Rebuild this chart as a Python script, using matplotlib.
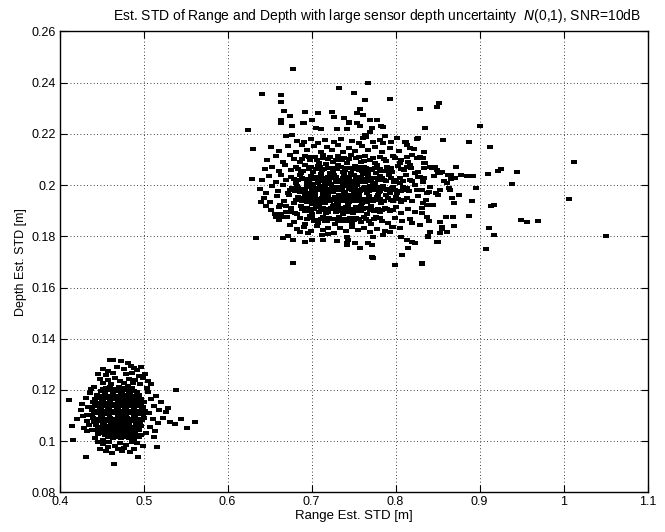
import matplotlib
matplotlib.use("Agg")
import matplotlib.pyplot as plt
from matplotlib.path import Path

plt.rcParams['font.family'] = ['Liberation Sans', 'DejaVu Sans']

# ---- data ----
upper_outliers = [
    (0.678,0.2455),(0.7325,0.238),(0.767,0.2398),(0.641,0.2357),(0.663,0.2352),(0.664,0.2323),
    (0.750,0.236),(0.764,0.2332),(0.793,0.2338),(0.829,0.2298),(0.852,0.2322),(0.8495,0.2306),
    (0.667,0.2288),(0.692,0.2287),(0.707,0.2282),(0.724,0.2286),(0.727,0.2267),(0.7575,0.2296),
    (0.7535,0.2282),(0.7615,0.2273),(0.769,0.2254),(0.674,0.2271),(0.664,0.2254),(0.664,0.2244),
    (0.691,0.2244),(0.739,0.2261),(0.745,0.2246),(0.778,0.2253),(0.6765,0.2231),(0.6245,0.2215),
    (0.705,0.2223),(0.711,0.2218),(0.7305,0.2219),(0.7425,0.222),(0.772,0.2222),(0.7845,0.2228),
    (0.8345,0.2222),(0.901,0.223),(0.6305,0.214),(0.6765,0.2197),(0.669,0.2193),(0.765,0.2197),
    (0.765,0.2187),(0.770,0.2206),(0.7875,0.2192),(0.812,0.217),(0.826,0.218),(0.7735,0.217),
    (0.629,0.2024),(0.856,0.2175),(0.887,0.217),(0.912,0.2148),(1.012,0.209),(0.834,0.213),
    (0.8325,0.2105),(0.834,0.2085),(0.834,0.2068),(0.841,0.207),(0.847,0.207),(0.851,0.2046),
    (0.855,0.205),(0.8725,0.2071),(0.8655,0.2038),(0.8775,0.2038),(0.8845,0.2037),(0.8925,0.2037),
    (0.91,0.2043),(0.922,0.2056),(0.9255,0.2063),(0.9445,0.205),(0.939,0.2004),(0.8955,0.1989),
    (0.891,0.1939),(1.006,0.1947),(0.914,0.192),(0.917,0.1923),(0.8875,0.188),(0.949,0.1864),
    (0.956,0.1857),(0.969,0.186),(0.9115,0.1834),(0.917,0.1806),(1.05,0.1802),(0.9075,0.1752),
    (0.8685,0.1874),(0.8595,0.1875),(0.8695,0.1839),(0.855,0.1836),(0.855,0.1827),(0.8505,0.1779),
    (0.8315,0.1693),(0.875,0.1961),(0.87,0.1929),(0.8525,0.1857),(0.84,0.186),(0.841,0.1816),
    (0.839,0.1801),(0.8635,0.199),(0.8646,0.1981),(0.8667,0.1951),(0.8484,0.1968),(0.8507,0.1961),
    (0.866,0.2037),(0.8655,0.2025),(0.8706,0.2027),(0.858,0.2016),(0.861,0.2009),(0.8325,0.2019),
    (0.834,0.2028),(0.846,0.2035),(0.833,0.1929),(0.837,0.1922),(0.845,0.1922),(0.831,0.189),
    (0.837,0.1877),(0.6397,0.1935),(0.6456,0.1918),(0.6333,0.1795),(0.6774,0.1697),(0.656,0.1887),
    (0.657,0.1877),(0.664,0.1887),(0.665,0.1877),(0.674,0.1844),(0.676,0.1896),(0.680,0.189),
    (0.662,0.1922),(0.670,0.192),(0.666,0.1792),(0.672,0.1801),(0.678,0.1786),(0.686,0.1816),
    (0.696,0.1812),(0.700,0.1786),(0.692,0.1779),(0.712,0.1805),(0.720,0.1809),(0.714,0.1786),
    (0.730,0.1783),(0.7417,0.1773),(0.7424,0.1798),(0.7436,0.1786),(0.7515,0.1773),(0.7417,0.1766),
    (0.7674,0.1773),(0.7714,0.1766),(0.7733,0.1798),(0.7852,0.1805),(0.7932,0.1818),(0.7575,0.1753),
    (0.7714,0.172),(0.7733,0.1714),(0.8071,0.1727),(0.7992,0.1688),(0.831,0.1695),(0.815,0.1753),
    (0.823,0.1773),(0.819,0.1779),(0.8388,0.1798),(0.8488,0.1779),(0.8527,0.1812),(0.8607,0.1818),
    (0.807,0.1798),(0.813,0.1786),(0.797,0.1838),(0.805,0.1831),(0.819,0.1851),(0.829,0.1844),
    (0.690,0.2241),(0.700,0.2254),(0.745,0.2241),(0.754,0.2241),(0.7575,0.2231),(0.783,0.2231),
    (0.835,0.2222),(0.827,0.2183),(0.7635,0.2196),(0.7615,0.2183),(0.785,0.2163),(0.811,0.217),
    (0.813,0.2157),(0.817,0.2144),(0.813,0.2111),(0.819,0.2118),(0.829,0.2111),(0.835,0.2085),
    (0.843,0.2066),(0.849,0.2059),(0.8527,0.2046),(0.8626,0.204),(0.805,0.2085),(0.817,0.2079),
    (0.823,0.2046),(0.827,0.2033),(0.817,0.202),(0.833,0.2013),(0.841,0.1994),(0.8527,0.1981),
    (0.825,0.1981),(0.837,0.1968),(0.811,0.1981),(0.805,0.2007),(0.797,0.1994),(0.793,0.1968),
]

upper_core = [
    (0.683,0.2172),(0.691,0.2168),(0.699,0.2179),(0.708,0.2166),(0.716,0.2175),(0.727,0.2169),
    (0.735,0.2181),(0.748,0.2172),(0.756,0.2166),(0.781,0.2177),(0.795,0.2168),(0.802,0.2184),
    (0.652,0.2148),(0.661,0.2135),(0.672,0.2152),(0.681,0.2131),(0.688,0.2158),(0.694,0.2139),
    (0.703,0.2151),(0.711,0.2129),(0.718,0.2147),(0.724,0.2136),(0.731,0.2158),(0.737,0.2128),
    (0.744,0.2145),(0.752,0.2133),(0.76,0.2152),(0.767,0.2138),(0.776,0.2149),(0.784,0.2131),
    (0.793,0.2143),(0.804,0.2135),(0.822,0.2141),
    (0.647,0.2098),(0.658,0.2112),(0.666,0.2091),(0.674,0.2118),(0.679,0.2101),(0.686,0.2089),
    (0.692,0.2115),(0.698,0.2097),(0.704,0.2108),(0.709,0.2088),(0.714,0.2119),(0.72,0.2102),
    (0.726,0.2091),(0.731,0.2113),(0.736,0.2099),(0.742,0.2086),(0.747,0.2117),(0.753,0.2104),
    (0.759,0.2092),(0.764,0.2112),(0.77,0.2098),(0.776,0.2087),(0.782,0.2109),(0.789,0.2094),
    (0.797,0.2114),(0.806,0.2099),(0.815,0.2091),(0.826,0.2104),
    (0.644,0.2061),(0.653,0.2072),(0.661,0.2054),(0.668,0.2078),(0.675,0.2058),(0.681,0.2069),
    (0.687,0.2049),(0.692,0.2077),(0.697,0.2061),(0.702,0.2052),(0.707,0.2073),(0.712,0.2058),
    (0.717,0.2081),(0.722,0.2047),(0.727,0.2066),(0.732,0.2079),(0.737,0.2053),(0.742,0.2068),
    (0.747,0.2049),(0.752,0.2076),(0.757,0.2059),(0.762,0.2071),(0.767,0.2051),(0.772,0.2064),
    (0.778,0.2078),(0.784,0.2055),(0.79,0.2069),(0.796,0.2052),(0.803,0.2074),(0.81,0.2058),
    (0.818,0.2067),(0.827,0.2052),
    (0.641,0.2021),(0.649,0.2036),(0.657,0.2014),(0.664,0.2041),(0.67,0.2019),(0.676,0.2033),
    (0.681,0.2008),(0.686,0.2039),(0.69,0.2022),(0.695,0.2011),(0.699,0.2037),(0.703,0.2025),
    (0.707,0.2009),(0.711,0.2042),(0.715,0.2018),(0.719,0.2031),(0.723,0.2006),(0.727,0.2039),
    (0.731,0.2021),(0.735,0.2012),(0.739,0.2035),(0.743,0.2024),(0.747,0.2008),(0.751,0.2041),
    (0.755,0.2017),(0.759,0.2029),(0.763,0.2011),(0.767,0.2037),(0.771,0.2023),(0.776,0.2009),
    (0.781,0.2034),(0.786,0.2019),(0.792,0.2041),(0.798,0.2014),(0.805,0.2027),(0.812,0.2038),
    (0.82,0.2016),(0.829,0.2031),
    (0.638,0.1983),(0.646,0.1971),(0.653,0.1995),(0.66,0.1978),(0.666,0.2001),(0.672,0.1969),
    (0.677,0.1988),(0.682,0.1997),(0.686,0.1973),(0.69,0.1986),(0.694,0.2002),(0.698,0.1968),
    (0.702,0.1991),(0.706,0.1979),(0.71,0.1998),(0.714,0.1966),(0.718,0.1985),(0.722,0.2003),
    (0.726,0.1974),(0.73,0.1992),(0.734,0.1981),(0.738,0.1967),(0.742,0.1996),(0.746,0.1984),
    (0.75,0.1971),(0.754,0.2001),(0.758,0.1977),(0.762,0.1989),(0.766,0.1969),(0.77,0.1998),
    (0.775,0.1982),(0.78,0.1972),(0.785,0.1995),(0.79,0.1979),(0.796,0.1987),(0.802,0.1969),
    (0.809,0.1993),(0.816,0.1976),(0.823,0.1999),(0.831,0.1982),(0.84,0.1974),
    (0.643,0.1948),(0.651,0.1933),(0.659,0.1957),(0.667,0.1939),(0.673,0.1961),(0.679,0.1929),
    (0.684,0.1952),(0.688,0.1937),(0.692,0.1963),(0.696,0.1944),(0.7,0.1927),(0.704,0.1956),
    (0.708,0.1938),(0.712,0.1949),(0.716,0.1931),(0.72,0.1962),(0.724,0.1941),(0.728,0.1953),
    (0.732,0.1928),(0.736,0.1946),(0.74,0.1959),(0.744,0.1934),(0.748,0.1951),(0.752,0.1939),
    (0.756,0.1964),(0.76,0.1929),(0.764,0.1947),(0.768,0.1958),(0.773,0.1936),(0.778,0.1952),
    (0.783,0.1931),(0.788,0.1961),(0.794,0.1942),(0.8,0.1955),(0.806,0.1933),(0.813,0.1949),
    (0.82,0.1938),(0.827,0.1958),(0.836,0.1941),
    (0.652,0.1902),(0.661,0.1915),(0.669,0.1894),(0.676,0.1911),(0.682,0.1889),(0.687,0.1918),
    (0.692,0.1899),(0.697,0.1908),(0.701,0.1887),(0.705,0.1921),(0.709,0.1896),(0.713,0.1912),
    (0.717,0.1891),(0.721,0.1905),(0.725,0.1919),(0.729,0.1893),(0.733,0.1909),(0.737,0.1886),
    (0.741,0.1916),(0.745,0.1901),(0.749,0.1892),(0.753,0.1914),(0.757,0.1897),(0.761,0.1908),
    (0.766,0.1889),(0.771,0.1917),(0.776,0.1902),(0.781,0.1893),(0.787,0.1911),(0.793,0.1898),
    (0.8,0.1916),(0.807,0.1891),(0.815,0.1907),(0.823,0.1895),(0.832,0.1912),
    (0.661,0.1862),(0.671,0.1875),(0.679,0.1855),(0.686,0.1871),(0.692,0.1849),(0.698,0.1879),
    (0.703,0.1861),(0.708,0.1852),(0.713,0.1874),(0.718,0.1858),(0.723,0.1868),(0.728,0.1847),
    (0.733,0.1877),(0.738,0.1859),(0.743,0.1869),(0.748,0.1851),(0.753,0.1873),(0.759,0.1857),
    (0.765,0.1866),(0.771,0.1849),(0.777,0.1876),(0.784,0.1861),(0.791,0.1853),(0.799,0.1871),
    (0.808,0.1858),(0.817,0.1869),
    (0.683,0.1828),(0.691,0.1836),(0.699,0.1821),(0.706,0.1839),(0.713,0.1825),(0.72,0.1834),
    (0.727,0.1812),(0.734,0.1831),(0.741,0.1819),(0.748,0.1838),(0.755,0.1823),(0.762,0.1833),
    (0.77,0.1815),(0.778,0.1829),(0.787,0.1821),(0.796,0.1836),
    (0.702,0.2003),(0.711,0.1993),(0.716,0.2007),(0.724,0.1989),(0.729,0.2014),(0.733,0.1961),
    (0.737,0.1997),(0.741,0.2008),(0.745,0.1962),(0.749,0.1993),(0.753,0.2028),(0.757,0.1953),
    (0.761,0.2012),(0.765,0.1982),(0.769,0.1941),(0.773,0.2001),(0.719,0.1943),(0.727,0.1921),
    (0.735,0.1936),(0.743,0.1921),(0.751,0.1908),(0.759,0.1918),(0.709,0.1926),(0.725,0.2051),
    (0.739,0.2047),(0.749,0.2061),(0.761,0.2043),(0.708,0.2032),(0.697,0.1952),(0.713,0.1973),
    (0.731,0.1947),(0.755,0.1981),(0.779,0.1963),(0.784,0.1991),(0.777,0.2049),
]

upper_dense = [
    (0.689,0.2103),(0.697,0.2108),(0.706,0.2099),(0.713,0.2106),(0.722,0.2111),(0.729,0.2097),
    (0.738,0.2107),(0.745,0.2101),(0.756,0.2109),(0.762,0.2096),(0.773,0.2105),(0.786,0.2101),
    (0.799,0.2106),
    (0.684,0.2063),(0.69,0.2057),(0.699,0.2069),(0.705,0.2064),(0.71,0.2071),(0.715,0.2062),
    (0.72,0.2068),(0.725,0.2057),(0.73,0.2063),(0.735,0.2071),(0.74,0.2058),(0.745,0.2066),
    (0.75,0.2061),(0.755,0.2069),(0.76,0.2056),(0.765,0.2066),(0.77,0.2059),(0.775,0.2067),
    (0.781,0.2062),(0.788,0.2057),(0.794,0.2065),(0.806,0.2062),(0.814,0.2071),
    (0.679,0.2024),(0.684,0.2019),(0.688,0.2029),(0.693,0.2025),(0.697,0.2017),(0.701,0.2031),
    (0.705,0.2023),(0.709,0.2015),(0.713,0.2029),(0.717,0.2024),(0.721,0.2019),(0.725,0.2027),
    (0.729,0.2032),(0.733,0.2017),(0.737,0.2026),(0.741,0.2021),(0.745,0.2031),(0.749,0.2016),
    (0.753,0.2024),(0.757,0.2033),(0.761,0.2021),(0.765,0.2025),(0.769,0.2015),(0.774,0.2029),
    (0.779,0.2019),(0.784,0.2026),(0.789,0.2017),(0.795,0.2028),(0.801,0.2021),(0.809,0.2015),
    (0.674,0.1981),(0.68,0.1977),(0.684,0.1989),(0.688,0.1981),(0.692,0.1976),(0.696,0.1991),
    (0.7,0.1983),(0.704,0.1974),(0.708,0.1988),(0.712,0.1981),(0.716,0.1993),(0.72,0.1976),
    (0.724,0.1986),(0.728,0.1979),(0.732,0.1989),(0.736,0.1983),(0.74,0.1975),(0.744,0.1988),
    (0.748,0.1981),(0.752,0.1986),(0.756,0.1974),(0.76,0.1983),(0.764,0.1991),(0.768,0.1978),
    (0.772,0.1986),(0.777,0.1991),(0.782,0.1978),(0.788,0.1985),(0.793,0.1973),(0.799,0.1981),
    (0.806,0.1978),(0.813,0.1988),
    (0.681,0.1941),(0.686,0.1946),(0.69,0.1951),(0.694,0.1935),(0.698,0.1948),(0.702,0.1941),
    (0.706,0.1947),(0.71,0.1934),(0.714,0.1942),(0.718,0.1951),(0.722,0.1936),(0.726,0.1944),
    (0.73,0.1939),(0.734,0.1952),(0.738,0.1936),(0.742,0.1944),(0.746,0.1941),(0.75,0.1953),
    (0.754,0.1946),(0.758,0.1938),(0.762,0.1941),(0.766,0.1935),(0.771,0.1946),(0.776,0.1941),
    (0.781,0.1947),(0.786,0.1939),(0.791,0.1951),(0.797,0.1936),(0.803,0.1944),(0.81,0.1941),
    (0.689,0.1905),(0.694,0.1911),(0.699,0.1898),(0.703,0.1906),(0.707,0.1913),(0.711,0.1902),
    (0.715,0.1907),(0.719,0.1896),(0.723,0.1909),(0.727,0.1905),(0.731,0.1899),(0.735,0.1912),
    (0.739,0.1903),(0.743,0.1895),(0.747,0.1908),(0.751,0.1902),(0.755,0.1906),(0.759,0.1899),
    (0.764,0.1911),(0.769,0.1903),(0.774,0.1897),(0.779,0.1908),(0.784,0.1902),(0.79,0.1906),
    (0.797,0.1902),
    (0.695,0.1866),(0.701,0.1871),(0.706,0.1863),(0.711,0.1867),(0.716,0.1861),(0.721,0.1873),
    (0.726,0.1866),(0.731,0.1859),(0.736,0.1866),(0.741,0.1861),(0.746,0.1871),(0.751,0.1863),
    (0.756,0.1866),(0.762,0.1874),(0.768,0.1861),(0.774,0.1866),(0.781,0.1871),
]

lower_core = [
    (0.455,0.1208),(0.460,0.1213),(0.466,0.1205),(0.471,0.1211),(0.476,0.1207),(0.481,0.1214),(0.486,0.1206),
    (0.449,0.1197),(0.454,0.1192),(0.459,0.1198),(0.464,0.1193),(0.468,0.1196),(0.473,0.1191),(0.478,0.1199),
    (0.483,0.1194),(0.488,0.1197),(0.492,0.1192),
    (0.444,0.1182),(0.449,0.1177),(0.454,0.1183),(0.459,0.1178),(0.464,0.1181),(0.469,0.1176),(0.474,0.1183),
    (0.479,0.1179),(0.484,0.1182),(0.489,0.1177),(0.494,0.1181),
    (0.442,0.1163),(0.447,0.1168),(0.452,0.1162),(0.457,0.1167),(0.462,0.1164),(0.467,0.1169),(0.472,0.1162),
    (0.477,0.1166),(0.482,0.1163),(0.487,0.1168),(0.492,0.1162),(0.497,0.1166),
    (0.440,0.1152),(0.445,0.1147),(0.450,0.1153),(0.455,0.1148),(0.460,0.1151),(0.465,0.1146),(0.470,0.1153),
    (0.475,0.1149),(0.480,0.1152),(0.485,0.1147),(0.490,0.1151),(0.495,0.1148),(0.500,0.1152),
    (0.439,0.1133),(0.444,0.1138),(0.449,0.1132),(0.454,0.1137),(0.459,0.1134),(0.464,0.1139),(0.469,0.1132),
    (0.474,0.1136),(0.479,0.1133),(0.484,0.1138),(0.489,0.1131),(0.494,0.1136),(0.499,0.1134),
    (0.438,0.1122),(0.443,0.1117),(0.448,0.1123),(0.453,0.1118),(0.458,0.1121),(0.463,0.1116),(0.468,0.1123),
    (0.473,0.1119),(0.478,0.1122),(0.483,0.1117),(0.488,0.1121),(0.493,0.1118),(0.498,0.1122),(0.502,0.1117),
    (0.439,0.1103),(0.444,0.1108),(0.449,0.1102),(0.454,0.1107),(0.459,0.1104),(0.464,0.1109),(0.469,0.1102),
    (0.474,0.1106),(0.479,0.1103),(0.484,0.1108),(0.489,0.1101),(0.494,0.1106),(0.499,0.1104),
    (0.440,0.1092),(0.445,0.1087),(0.450,0.1093),(0.455,0.1088),(0.460,0.1091),(0.465,0.1086),(0.470,0.1093),
    (0.475,0.1089),(0.480,0.1092),(0.485,0.1087),(0.490,0.1091),(0.495,0.1088),(0.500,0.1092),
    (0.441,0.1073),(0.446,0.1078),(0.451,0.1072),(0.456,0.1077),(0.461,0.1074),(0.466,0.1079),(0.471,0.1072),
    (0.476,0.1076),(0.481,0.1073),(0.486,0.1078),(0.491,0.1071),(0.496,0.1076),
    (0.443,0.1062),(0.448,0.1057),(0.453,0.1063),(0.458,0.1058),(0.463,0.1061),(0.468,0.1056),(0.473,0.1063),
    (0.478,0.1059),(0.483,0.1062),(0.488,0.1057),(0.493,0.1061),(0.497,0.1058),
    (0.446,0.1043),(0.451,0.1048),(0.456,0.1042),(0.461,0.1047),(0.466,0.1044),(0.471,0.1049),(0.476,0.1042),
    (0.481,0.1046),(0.486,0.1043),(0.491,0.1048),(0.495,0.1044),
    (0.451,0.1032),(0.456,0.1027),(0.461,0.1033),(0.466,0.1028),(0.471,0.1031),(0.476,0.1026),(0.481,0.1033),
    (0.486,0.1029),(0.490,0.1032),
    (0.458,0.1017),(0.463,0.1012),(0.468,0.1018),(0.473,0.1013),(0.478,0.1016),(0.483,0.1011),
    (0.4515,0.1202),(0.4565,0.1204),(0.4615,0.1201),(0.4665,0.1203),(0.4715,0.1201),(0.4765,0.1204),
    (0.4815,0.1202),(0.4865,0.1203),
    (0.4465,0.1173),(0.4515,0.117),(0.4565,0.1174),(0.4615,0.1171),(0.4665,0.1174),(0.4715,0.117),
    (0.4765,0.1173),(0.4815,0.1171),(0.4865,0.1174),(0.4915,0.117),
    (0.4415,0.1143),(0.4465,0.1141),(0.4515,0.1144),(0.4565,0.1142),(0.4615,0.1145),(0.4665,0.1141),
    (0.4715,0.1143),(0.4765,0.1144),(0.4815,0.1141),(0.4865,0.1143),(0.4915,0.1142),(0.4965,0.1144),
    (0.4405,0.1112),(0.4455,0.1114),(0.4505,0.1111),(0.4555,0.1113),(0.4605,0.1115),(0.4655,0.1111),
    (0.4705,0.1113),(0.4755,0.1112),(0.4805,0.1114),(0.4855,0.1111),(0.4905,0.1113),(0.4955,0.1112),
    (0.5005,0.1114),
    (0.4425,0.1082),(0.4475,0.1084),(0.4525,0.1081),(0.4575,0.1083),(0.4625,0.1085),(0.4675,0.1081),
    (0.4725,0.1083),(0.4775,0.1082),(0.4825,0.1084),(0.4875,0.1081),(0.4925,0.1083),(0.4975,0.1082),
    (0.4455,0.1052),(0.4505,0.1054),(0.4555,0.1051),(0.4605,0.1053),(0.4655,0.1055),(0.4705,0.1051),
    (0.4755,0.1053),(0.4805,0.1052),(0.4855,0.1054),(0.4905,0.1051),(0.4945,0.1053),
    (0.4535,0.1022),(0.4585,0.1024),(0.4635,0.1021),(0.4685,0.1023),(0.4735,0.1025),(0.4785,0.1021),
    (0.4835,0.1023),(0.4875,0.1022),
]

lower_fringe = [
    (0.460,0.1317),(0.464,0.1316),(0.473,0.1312),(0.481,0.1304),(0.452,0.1283),(0.457,0.1275),(0.468,0.1289),
    (0.476,0.1281),(0.485,0.1292),(0.489,0.1285),(0.492,0.1278),(0.497,0.1288),(0.445,0.1262),(0.455,0.1258),
    (0.463,0.1266),(0.479,0.1262),(0.486,0.1268),(0.494,0.1255),(0.501,0.1262),(0.448,0.1243),(0.458,0.1238),
    (0.466,0.1246),(0.472,0.1236),(0.483,0.1244),(0.49,0.1239),(0.499,0.1247),(0.505,0.1235),(0.451,0.1227),
    (0.461,0.1224),(0.476,0.1228),(0.487,0.1226),(0.496,0.1222),
    (0.4114,0.116),(0.415,0.1059),(0.4162,0.1004),(0.425,0.1121),(0.428,0.1098),(0.431,0.1168),(0.433,0.1079),
    (0.434,0.1135),(0.436,0.1189),(0.429,0.1052),(0.433,0.1041),(0.437,0.1205),(0.441,0.1212),(0.432,0.1102),
    (0.435,0.1062),(0.438,0.1045),(0.427,0.1146),(0.421,0.1087),
    (0.539,0.120),(0.561,0.1076),(0.551,0.105),(0.5155,0.0978),(0.505,0.1192),(0.509,0.1163),(0.512,0.1139),
    (0.515,0.1178),(0.518,0.1121),(0.506,0.1108),(0.511,0.1087),(0.517,0.1069),(0.521,0.1151),(0.526,0.1112),
    (0.523,0.1091),(0.531,0.1073),(0.507,0.1055),(0.513,0.1041),(0.529,0.1129),(0.537,0.1068),(0.544,0.1085),
    (0.504,0.1208),(0.509,0.1224),(0.503,0.1032),(0.512,0.1017),
    (0.4313,0.0939),(0.4936,0.0939),(0.465,0.091),(0.445,0.0995),(0.452,0.0988),(0.459,0.0997),(0.466,0.0982),
    (0.472,0.0993),(0.479,0.0986),(0.486,0.0998),(0.492,0.0991),(0.448,0.0971),(0.457,0.0976),(0.469,0.0968),
    (0.477,0.0974),(0.489,0.0969),(0.499,0.0981),(0.442,0.1012),(0.451,0.1006),(0.488,0.1008),(0.494,0.1016),
    (0.446,0.1027),(0.497,0.1025),(0.462,0.0955),(0.474,0.0961),(0.484,0.0958),(0.455,0.0962),
]

x_ticks = [0.4, 0.5, 0.6, 0.7, 0.8, 0.9, 1.0, 1.1]
x_tick_labels = ['0.4', '0.5', '0.6', '0.7', '0.8', '0.9', '1', '1.1']
y_ticks = [0.08, 0.10, 0.12, 0.14, 0.16, 0.18, 0.20, 0.22, 0.24, 0.26]
y_tick_labels = ['0.08', '0.1', '0.12', '0.14', '0.16', '0.18', '0.2', '0.22', '0.24', '0.26']

title_text = r'Est. STD of Range and Depth with large sensor depth uncertainty  $\mathit{N}$(0,1), SNR=10dB'
x_label = 'Range Est. STD [m]'
y_label = 'Depth Est. STD [m]'

# ---- plot ----
fig = plt.figure(figsize=(6.65, 5.32), dpi=100)
ax = fig.add_axes([0.0898, 0.0746, 0.8839, 0.8662])

dot = Path([(-1.25, -1.0), (1.25, -1.0), (1.25, 1.0), (-1.25, 1.0), (-1.25, -1.0)],
           [Path.MOVETO, Path.LINETO, Path.LINETO, Path.LINETO, Path.CLOSEPOLY])

all_pts = upper_outliers + upper_core + upper_dense + lower_core + lower_fringe
xs = [p[0] for p in all_pts]
ys = [p[1] for p in all_pts]
ax.plot(xs, ys, linestyle='none', marker=dot, markersize=3.7,
        markeredgewidth=0, color='black')

ax.set_xlim(0.4, 1.1)
ax.set_ylim(0.08, 0.26)
ax.set_xticks(x_ticks)
ax.set_xticklabels(x_tick_labels)
ax.set_yticks(y_ticks)
ax.set_yticklabels(y_tick_labels)
ax.tick_params(direction='in', length=5, width=0.8, top=True, right=True,
               labelsize=9, pad=3)
ax.grid(True, linestyle=(0, (1, 3)), color='black', linewidth=0.6)
for s in ax.spines.values():
    s.set_linewidth(1.0)

ax.set_title(title_text, fontsize=10, pad=8, x=0.54)
ax.set_xlabel(x_label, fontsize=9.5, labelpad=1)
ax.set_ylabel(y_label, fontsize=9, labelpad=3)

fig.savefig('out.png', dpi=100)
